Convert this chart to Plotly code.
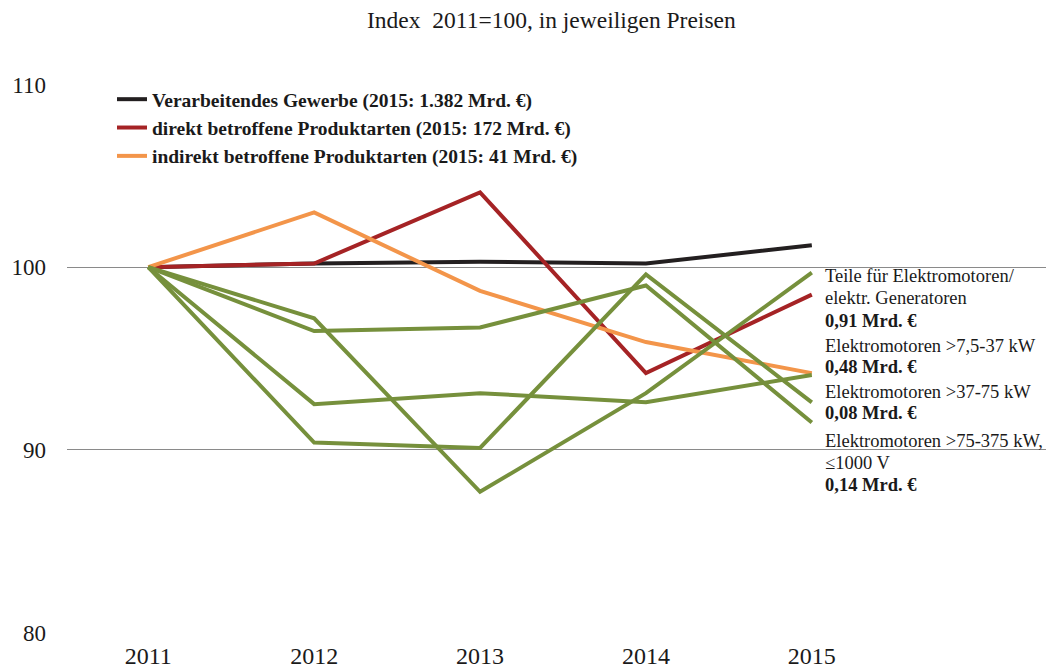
import plotly.graph_objects as go

years = [2011, 2012, 2013, 2014, 2015]
verarbeitendes = [100, 100.2, 100.3, 100.2, 101.2]
direkt = [100, 100.2, 104.1, 94.2, 98.5]
indirekt = [100, 103.0, 98.7, 95.9, 94.2]
teile = [100, 97.2, 87.7, 93.1, 99.7]
em_7_37 = [100, 92.5, 93.1, 92.6, 94.1]
em_37_75 = [100, 90.4, 90.1, 99.6, 92.6]
em_75_375 = [100, 96.5, 96.7, 99.0, 91.5]

legend_names = [
    "<b>Verarbeitendes Gewerbe (2015: 1.382 Mrd. €)</b>",
    "<b>direkt betroffene Produktarten (2015: 172 Mrd. €)</b>",
    "<b>indirekt betroffene Produktarten (2015: 41 Mrd. €)</b>",
]
y_ticks = [80, 90, 100, 110]

BLACK = "#231f20"
RED = "#a52325"
ORANGE = "#f3954a"
GREEN = "#76903c"
FONT = "Liberation Serif, Times New Roman, serif"

fig = go.Figure()
for i, (name, vals, col) in enumerate(zip(legend_names, [verarbeitendes, direkt, indirekt], [BLACK, RED, ORANGE])):
    fig.add_trace(go.Scatter(x=years, y=vals, mode="lines", name=name, legendgroup=f"g{i}",
                             line=dict(color=col, width=4)))
for vals in [teile, em_7_37, em_37_75, em_75_375]:
    fig.add_trace(go.Scatter(x=years, y=vals, mode="lines", showlegend=False,
                             line=dict(color=GREEN, width=4)))

labels = [
    ("Teile für Elektromotoren/", 99.51),
    ("elektr. Generatoren", 98.31),
    ("<b>0,91 Mrd. €</b>", 97.05),
    ("Elektromotoren >7,5-37 kW", 95.68),
    ("<b>0,48 Mrd. €</b>", 94.54),
    ("Elektromotoren >37-75 kW", 93.17),
    ("<b>0,08 Mrd. €</b>", 92.02),
    ("Elektromotoren >75-375 kW,", 90.49),
    ("≤1000 V", 89.29),
    ("<b>0,14 Mrd. €</b>", 88.09),
]
for txt, yv in labels:
    fig.add_annotation(x=2015.07, y=yv, xref="x", yref="y", text=txt, showarrow=False,
                       xanchor="left", yanchor="middle",
                       font=dict(family=FONT, size=18.5, color="#1a1a1a"))

# plot area in window pixels: x 67..1054, y 84..633 (page has 8px body margin)
PW, PH = 1054 - 67, 633 - 84
fig.add_annotation(x=(551 - 67) / PW, y=1 + (84 - 20) / PH, xref="paper", yref="paper",
                   text="Index  2011=100, in jeweiligen Preisen", showarrow=False,
                   xanchor="center", yanchor="middle",
                   font=dict(family=FONT, size=23.5, color="#1a1a1a"))

fig.update_layout(
    width=1046, height=664,
    margin=dict(l=59, r=0, t=76, b=39),
    paper_bgcolor="white", plot_bgcolor="white",
    font=dict(family=FONT, size=23, color="#1a1a1a"),
    legend=dict(x=(112 - 67) / PW, y=(633 - 80) / PH, xanchor="left", yanchor="top",
                bgcolor="rgba(0,0,0,0)", font=dict(family=FONT, size=19.5, color="#1a1a1a"),
                tracegroupgap=0, itemwidth=30),
    xaxis=dict(range=[2010.51, 2016.46], tickvals=years, ticktext=[str(y) for y in years],
               showgrid=False, zeroline=False, showline=False, ticks="", ticklabelstandoff=6,
               tickfont=dict(size=24)),
    yaxis=dict(range=[79.97, 110.03], tickvals=y_ticks, showgrid=True, gridcolor="#8a8a8a",
               gridwidth=1, zeroline=False, showline=False, ticks="", ticklabelstandoff=20),
)

fig.write_html("out.html")
